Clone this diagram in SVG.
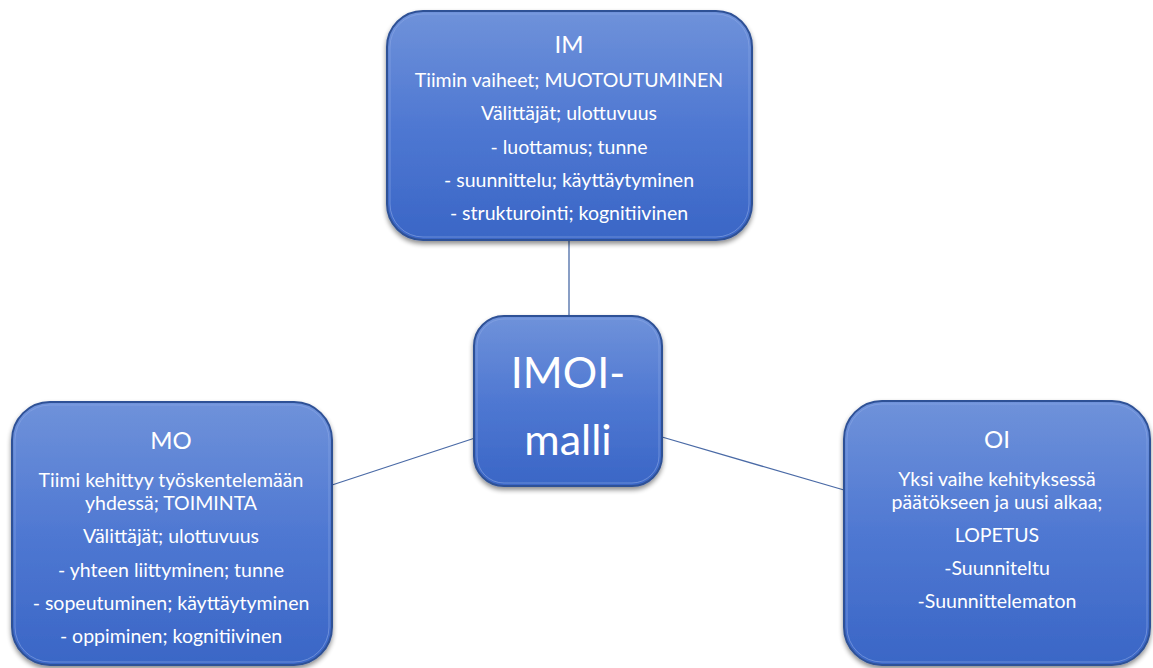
<svg xmlns="http://www.w3.org/2000/svg" width="1153" height="668" viewBox="0 0 1153 668">
  <defs>
    <linearGradient id="boxFill" x1="0" y1="0" x2="0" y2="1">
      <stop offset="0" stop-color="#6f92da"/>
      <stop offset="0.5" stop-color="#4f78d2"/>
      <stop offset="1" stop-color="#3a66c6"/>
    </linearGradient>
    <filter id="shadow" x="-10%" y="-10%" width="120%" height="125%">
      <feGaussianBlur in="SourceAlpha" stdDeviation="2.5"/>
      <feOffset dx="0" dy="3" result="b"/>
      <feComponentTransfer><feFuncA type="linear" slope="0.45"/></feComponentTransfer>
      <feMerge><feMergeNode/><feMergeNode in="SourceGraphic"/></feMerge>
    </filter>
    <style>
      .box { fill: url(#boxFill); stroke: #2f5196; stroke-width: 2; filter: url(#shadow); }
      .inner { fill: none; stroke: #8aa6e4; stroke-width: 1; opacity: 0.6; }
      .conn { stroke: #4a6aa6; stroke-width: 1.3; fill: none; }
      text { font-family: Lato, "Liberation Sans", sans-serif; fill: #ffffff; text-anchor: middle; }
      .title { font-size: 24px; }
      .body { font-size: 19.5px; }
      .big { font-size: 43px; }
    </style>
  </defs>

  <rect width="1153" height="668" fill="#ffffff"/>

  <g id="connectors">
    <line class="conn" x1="569" y1="240" x2="569" y2="316"/>
    <line class="conn" x1="332" y1="485" x2="475" y2="438"/>
    <line class="conn" x1="662" y1="437" x2="844" y2="490"/>
  </g>

  <g id="node-im">
    <rect class="box" x="387" y="11" width="365" height="229" rx="36"/>
    <rect class="inner" x="390" y="14" width="359" height="223" rx="33"/>
    <text class="title" x="569" y="53">IM</text>
    <text class="body" x="569" y="87">Tiimin vaiheet; MUOTOUTUMINEN</text>
    <text class="body" x="569" y="120">Välittäjät; ulottuvuus</text>
    <text class="body" x="569" y="154">- luottamus; tunne</text>
    <text class="body" x="569" y="187">- suunnittelu; käyttäytyminen</text>
    <text class="body" x="569" y="220">- strukturointi; kognitiivinen</text>
  </g>

  <g id="node-center">
    <rect class="box" x="474" y="316" width="188" height="170" rx="30"/>
    <rect class="inner" x="477" y="319" width="182" height="164" rx="27"/>
    <text class="big" x="568" y="388">IMOI-</text>
    <text class="big" x="568" y="455">malli</text>
  </g>

  <g id="node-mo">
    <rect class="box" x="12" y="402" width="320" height="263" rx="38"/>
    <rect class="inner" x="15" y="405" width="314" height="257" rx="35"/>
    <text class="title" x="171" y="449">MO</text>
    <text class="body" x="171" y="487">Tiimi kehittyy työskentelemään</text>
    <text class="body" x="171" y="510">yhdessä; TOIMINTA</text>
    <text class="body" x="171" y="543">Välittäjät; ulottuvuus</text>
    <text class="body" x="171" y="577">- yhteen liittyminen; tunne</text>
    <text class="body" x="171" y="610">- sopeutuminen; käyttäytyminen</text>
    <text class="body" x="171" y="643">- oppiminen; kognitiivinen</text>
  </g>

  <g id="node-oi">
    <rect class="box" x="844" y="401" width="306" height="264" rx="38"/>
    <rect class="inner" x="847" y="404" width="300" height="258" rx="35"/>
    <text class="title" x="997" y="448">OI</text>
    <text class="body" x="997" y="486">Yksi vaihe kehityksessä</text>
    <text class="body" x="997" y="509">päätökseen ja uusi alkaa;</text>
    <text class="body" x="997" y="542">LOPETUS</text>
    <text class="body" x="997" y="575">-Suunniteltu</text>
    <text class="body" x="997" y="608">-Suunnittelematon</text>
  </g>
</svg>
